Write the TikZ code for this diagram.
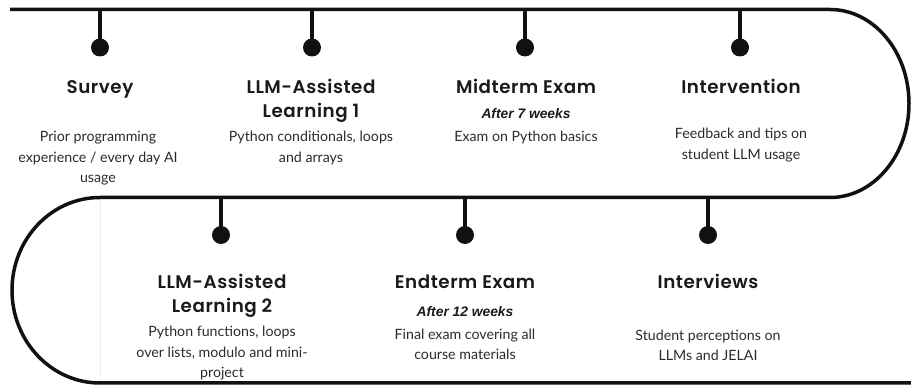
\documentclass[tikz,border=0pt]{standalone}
\usepackage{fontspec}
\setmainfont{Lato}
\IfFontExistsTF{Poppins SemiBold}{%
  \newfontfamily\titlefont{Poppins SemiBold}[LetterSpace=3]%
}{%
  \newfontfamily\titlefont{Poppins}[LetterSpace=3,UprightFont=*-Bold]%
}
\newfontfamily\subfont{Liberation Sans}
\definecolor{linec}{HTML}{111111}
\definecolor{textc}{HTML}{1A1A1A}
\definecolor{bodyc}{HTML}{2B2B2B}
\tikzset{
  track/.style={draw=linec, line width=3.5pt},
  stem/.style={draw=linec, line width=3.5pt},
  dot/.style={circle, fill=linec, minimum size=18pt, inner sep=0pt},
  ttl/.style={font=\titlefont\fontsize{18.3}{24.5}\selectfont, align=center, text=textc, anchor=base, inner sep=0pt},
  sub/.style={font=\subfont\bfseries\itshape\fontsize{13.8}{16}\selectfont, text=textc, anchor=base, inner sep=0pt},
  body/.style={font=\fontsize{14.2}{20.5}\selectfont, align=center, text=bodyc, anchor=base, inner sep=0pt},
}
\begin{document}
\begin{tikzpicture}[x=1pt,y=1pt]
\useasboundingbox (0,0) rectangle (911,-387);
% faint seam
\draw[black!6, line width=0.6pt] (100,-197.5) -- (100,-383);
% track
\draw[track] (10,-9.5) -- (830,-9.5)
  arc[start angle=90, end angle=-90, x radius=79pt, y radius=94pt]
  -- (100,-197.5)
  arc[start angle=90, end angle=270, x radius=88pt, y radius=92.75pt]
  -- (912,-383);
% top events
\foreach \n/\x in {s/100, l1/312, m/525, i/740}{
  \coordinate (\n t) at (\x,-9.5);
  \node[dot] (\n d) at (\x,-47.5) {};
  \draw[stem] (\n t) -- (\n d.center);
}
\foreach \n/\x in {l2/221, e/465, v/708}{
  \coordinate (\n t) at (\x,-197.5);
  \node[dot] (\n d) at (\x,-235) {};
  \draw[stem] (\n t) -- (\n d.center);
}
% texts top (base anchor = baseline of last line)
\node[ttl] (sT) at (100,-93.5) {Survey};
\node[body] (sB) at (98,-183) {Prior programming\\experience / every day AI\\usage};
\node[ttl] (l1T) at (311,-118) {LLM-Assisted\\Learning 1};
\node[body] (l1B) at (311,-162.5) {Python conditionals, loops\\and arrays};
\node[ttl] (mT) at (526,-93.5) {Midterm Exam};
\node[sub] (mS) at (526,-119) {After 7 weeks};
\node[body] (mB) at (526,-142) {Exam on Python basics};
\node[ttl] (iT) at (741,-93.5) {Intervention};
\node[body] (iB) at (741,-159.5) {Feedback and tips on\\student LLM usage};
% texts bottom
\node[ttl] (l2T) at (222,-313) {LLM-Assisted\\Learning 2};
\node[body] (l2B) at (222,-378) {Python functions, loops\\over lists, modulo and mini-\\project};
\node[ttl] (eT) at (465,-288.5) {Endterm Exam};
\node[sub] (eS) at (465,-317) {After 12 weeks};
\node[body] (eB) at (465,-360) {Final exam covering all\\course materials};
\node[ttl] (vT) at (708,-288.5) {Interviews};
\node[body] (vB) at (708,-361) {Student perceptions on\\LLMs and JELAI};
\end{tikzpicture}
\end{document}
